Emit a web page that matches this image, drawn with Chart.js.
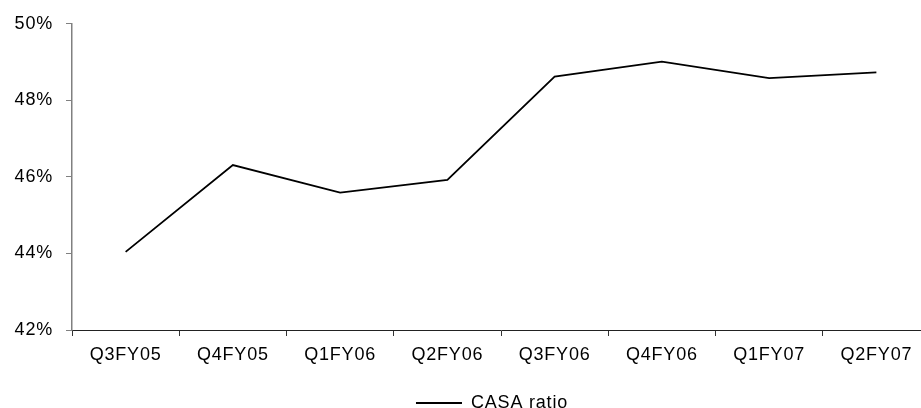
<!DOCTYPE html>
<html>
<head>
<meta charset="utf-8">
<script src="https://cdn.jsdelivr.net/npm/chart.js@4.4.1/dist/chart.umd.min.js"></script>
<style>
  html, body { margin: 0; padding: 0; overflow: hidden; background: #fff; }
  #wrap { position: absolute; left: 0; top: 0; width: 932px; height: 422px; }
</style>
</head>
<body>
<div id="wrap"><canvas id="c" width="932" height="422"></canvas></div>
<script>
// Quarterly CASA ratio (%)
const quarters = ['Q3FY05', 'Q4FY05', 'Q1FY06', 'Q2FY06', 'Q3FY06', 'Q4FY06', 'Q1FY07', 'Q2FY07'];
const casaRatio = [44.04, 46.31, 45.59, 45.92, 48.62, 49.01, 48.58, 48.73];
const seriesName = 'CASA ratio';
const yMin = 42, yMax = 50, yStep = 2;

const FONT = { family: '"Liberation Sans", Arial, sans-serif', size: 18 };

// widen glyph spacing a little for all canvas text
const spacing = {
  id: 'spacing',
  beforeDraw(chart) { chart.ctx.letterSpacing = '0.8px'; }
};
// nudge the legend row horizontally
const legendShift = {
  id: 'legendShift',
  afterLayout(chart) {
    const lg = chart.legend;
    if (lg) { lg.left += 23; lg.right += 23; }
  }
};

new Chart(document.getElementById('c'), {
  type: 'line',
  data: {
    labels: quarters,
    datasets: [{
      label: seriesName,
      data: casaRatio,
      borderColor: '#000',
      backgroundColor: '#000',
      borderWidth: 1.8,
      pointRadius: 0,
      tension: 0,
      fill: false
    }]
  },
  options: {
    responsive: false,
    animation: false,
    layout: { padding: { left: 0, top: 20, right: 2, bottom: 0 } },
    plugins: {
      tooltip: { enabled: false },
      legend: {
        position: 'bottom',
        labels: {
          color: '#000',
          font: FONT,
          usePointStyle: true,
          pointStyle: 'line',
          pointStyleWidth: 46,
          padding: 8
        }
      }
    },
    scales: {
      x: {
        offset: true,
        grid: { offset: true, drawOnChartArea: false, drawTicks: true, tickLength: 6, color: '#333' },
        border: { display: true, color: '#222', width: 1 },
        ticks: { color: '#000', font: FONT, padding: 8, maxRotation: 0, autoSkip: false },
        afterFit(s) { s.height = s.chart.height - s.chart.legend.height - 330; }
      },
      y: {
        min: yMin,
        max: yMax,
        grid: { drawOnChartArea: false, drawTicks: true, tickLength: 6, color: '#808080' },
        border: { display: true, color: '#808080', width: 1.5 },
        ticks: { stepSize: yStep, color: '#000', font: FONT, padding: 13, callback: v => v + '%' },
        afterFit(s) { s.width = 72; }
      }
    }
  },
  plugins: [spacing, legendShift]
});
</script>
</body>
</html>
